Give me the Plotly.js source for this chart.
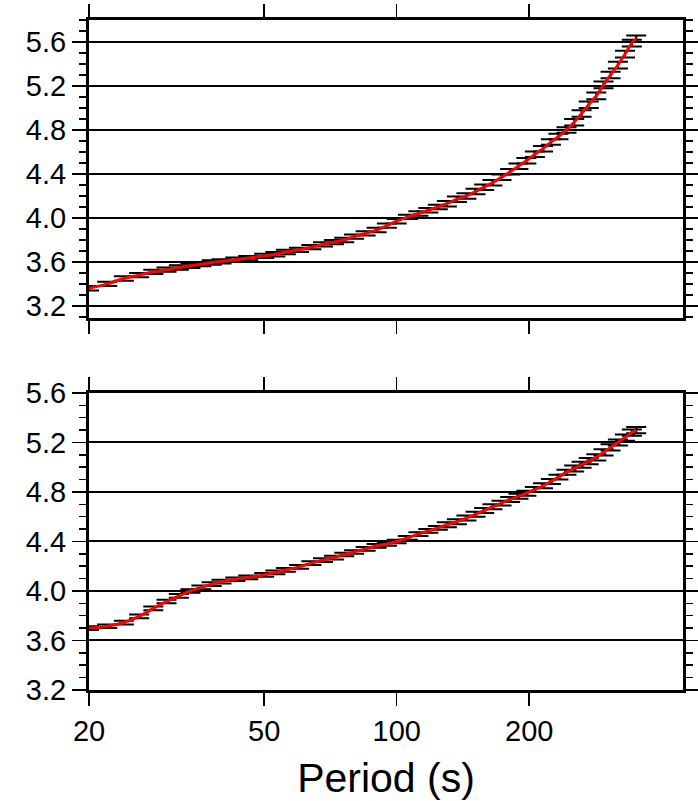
<!DOCTYPE html>
<html>
<head>
<meta charset="utf-8">
<script src="https://cdn.plot.ly/plotly-3.0.1.min.js"></script>
<style>html,body{margin:0;padding:0;background:#fff;}#chart{width:698px;height:801px;}</style>
</head>
<body>
<div id="chart"></div>
<script>
// Periods (s)
var periods = [20,22,24,26,28,30,32,34,36,38,
               40,43,46,50,53,56,60,64,68,72,
               76,80,85,90,95,100,106,112,118,124,
               130,137,144,151,158,165,173,181,189,197,
               206,215,224,233,243,253,263,273,284,295,
               306,318,330,342,350];
// Upper panel velocities (km/s)
var velTop = [3.36,3.40,3.45,3.48,3.51,3.53,3.55,3.565,3.58,3.595,
              3.605,3.62,3.635,3.655,3.67,3.69,3.71,3.735,3.76,3.78,
              3.80,3.83,3.86,3.89,3.93,3.97,4.01,4.04,4.07,4.10,
              4.13,4.17,4.20,4.24,4.28,4.32,4.37,4.42,4.47,4.52,
              4.58,4.63,4.69,4.74,4.80,4.87,4.95,5.03,5.11,5.21,
              5.30,5.39,5.49,5.59,5.63];
var errTop = [0.02,0.02,0.02,0.02,0.02,0.02,0.02,0.02,0.02,0.02,
              0.02,0.02,0.02,0.02,0.02,0.02,0.02,0.02,0.02,0.02,
              0.02,0.02,0.02,0.02,0.02,0.02,0.02,0.02,0.02,0.02,
              0.025,0.025,0.025,0.025,0.025,0.025,0.025,0.025,0.025,0.025,
              0.025,0.025,0.025,0.025,0.025,0.03,0.03,0.03,0.03,0.03,
              0.03,0.03,0.03,0.03,0.03];
// Lower panel velocities (km/s)
var velBot = [3.70,3.715,3.745,3.795,3.86,3.915,3.96,4.0,4.03,4.055,
              4.075,4.095,4.11,4.13,4.15,4.17,4.195,4.225,4.25,4.27,
              4.295,4.315,4.34,4.365,4.38,4.40,4.43,4.46,4.485,4.51,
              4.535,4.56,4.59,4.62,4.65,4.68,4.71,4.74,4.765,4.79,
              4.82,4.85,4.885,4.92,4.96,4.99,5.02,5.05,5.08,5.12,
              5.16,5.20,5.24,5.28,5.30];
var errBot = [0.015,0.015,0.015,0.015,0.015,0.015,0.015,0.015,0.015,0.015,
              0.015,0.015,0.015,0.015,0.015,0.015,0.015,0.015,0.015,0.015,
              0.015,0.015,0.015,0.015,0.015,0.015,0.015,0.015,0.015,0.015,
              0.02,0.02,0.02,0.02,0.02,0.02,0.02,0.02,0.02,0.02,
              0.02,0.02,0.02,0.02,0.02,0.025,0.025,0.025,0.025,0.025,
              0.025,0.025,0.025,0.025,0.025];
var xTickVals = [20,50,100,200];
var xTickText = ['20','50','100','200'];
var yTickVals = [3.2,3.6,4.0,4.4,4.8,5.2,5.6];
var yTickText = ['3.2','3.6','4.0','4.4','4.8','5.2','5.6'];
var xTitle = 'Period (s)';

var FONT = 'Liberation Sans, Arial, Helvetica, sans-serif';

function errTrace(y, e, xa, ya) {
  return {x: periods, y: y, xaxis: xa, yaxis: ya, type: 'scatter', mode: 'markers',
    marker: {size: 1, color: 'black'},
    error_y: {type: 'data', array: e, visible: true, color: 'black', thickness: 2, width: 10},
    showlegend: false, hoverinfo: 'skip'};
}
function lineTrace(y, xa, ya) {
  return {x: periods, y: y, xaxis: xa, yaxis: ya, type: 'scatter', mode: 'lines',
    line: {color: '#ff0000', width: 3, shape: 'spline', smoothing: 1}, showlegend: false};
}
var data = [
  errTrace(velTop, errTop, 'x', 'y'), lineTrace(velTop, 'x', 'y'),
  errTrace(velBot, errBot, 'x2', 'y2'), lineTrace(velBot, 'x2', 'y2')
];

function xAxis(showLabels, anchor) {
  return {type: 'log', range: [Math.log10(20), Math.log10(447)], anchor: anchor,
    tickmode: 'array', tickvals: xTickVals, ticktext: xTickText,
    ticks: 'outside', ticklen: 13, tickwidth: 1.5, tickcolor: 'black',
    showline: true, linewidth: 3, linecolor: 'black', mirror: 'ticks',
    showgrid: false, zeroline: false, showticklabels: showLabels,
    tickfont: {family: FONT, size: 29, color: 'black'}};
}
function yAxis(range, domain, anchor) {
  return {range: range, domain: domain, anchor: anchor,
    tickmode: 'array', tickvals: yTickVals, ticktext: yTickText,
    ticks: 'outside', ticklen: 14, tickwidth: 1.5, tickcolor: 'black',
    minor: {dtick: 0.1, tick0: 3.2, ticks: 'outside', ticklen: 7, tickwidth: 1.5, tickcolor: 'black', showgrid: false},
    showline: true, linewidth: 3, linecolor: 'black', mirror: 'ticks',
    showgrid: true, gridcolor: 'black', gridwidth: 2, zeroline: false,
    tickfont: {family: FONT, size: 29, color: 'black'}};
}

var xa2 = xAxis(true, 'y2');
xa2.title = {text: xTitle, font: {family: FONT, size: 41, color: 'black'}, standoff: 18};

var layout = {
  width: 698, height: 801,
  margin: {l: 89, r: 15, t: 20, b: 111},
  paper_bgcolor: 'white', plot_bgcolor: 'white',
  xaxis: xAxis(false, 'y'),
  yaxis: yAxis([3.09, 5.8], [0.5552, 1], 'x'),
  xaxis2: xa2,
  yaxis2: yAxis([3.2, 5.6], [0, 0.4433], 'x2'),
  showlegend: false
};
Plotly.newPlot('chart', data, layout, {displayModeBar: false, staticPlot: true});
</script>
</body>
</html>
